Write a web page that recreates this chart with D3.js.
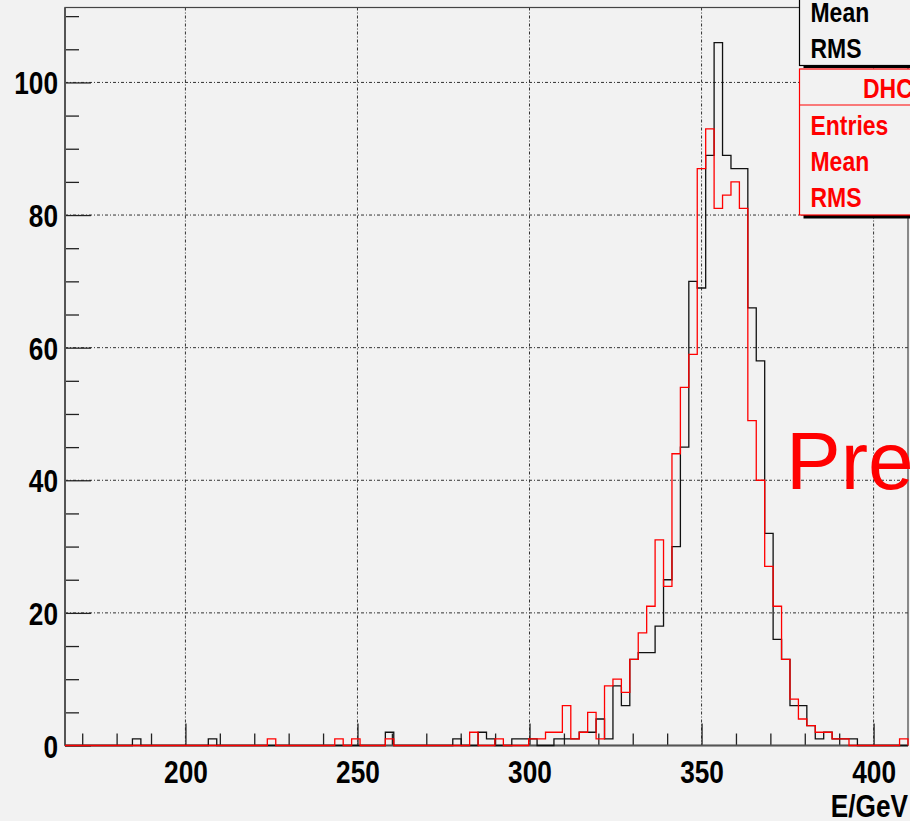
<!DOCTYPE html>
<html>
<head>
<meta charset="utf-8">
<script src="https://cdn.jsdelivr.net/npm/d3@7"></script>
<style>
  body { margin: 0; background: #f2f2f2; }
  svg { display: block; }
  .lbl { font-family: 'Liberation Sans', Arial, Helvetica, sans-serif; font-weight: bold; }
</style>
</head>
<body>
<div id="chart"></div>
<script>
// histogram binning: 100 bins between 165 and 410 GeV
var xRange = [165, 410];
var nBins = 100;

// black histogram, counts per bin
var countsBlack = [
  0,0,0,0,0,0,0,0,1,0,
  0,0,0,0,0,0,0,1,0,0,
  0,0,0,0,0,0,0,0,0,0,
  0,0,0,0,0,0,0,0,2,0,
  0,0,0,0,0,0,1,0,0,2,
  1,0,0,1,1,1,0,0,1,1,
  1,2,2,4,1,9,6,13,14,14,
  18,25,30,45,70,69,89,106,89,87,
  87,66,58,32,16,13,6,6,3,1,
  2,1,1,1,0,0,0,0,0,0
];

// red histogram (DHC), counts per bin
var countsRed = [
  0,0,0,0,0,0,0,0,0,0,
  0,0,0,0,0,0,0,0,0,0,
  0,0,0,0,1,0,0,0,0,0,
  0,0,1,0,1,0,0,0,1,0,
  0,0,0,0,0,0,0,0,2,0,
  0,1,0,0,0,1,1,2,2,6,
  1,2,5,1,9,10,8,13,17,21,
  31,24,44,54,59,87,93,81,83,85,
  81,49,40,27,21,13,7,4,3,2,
  2,1,1,0,0,0,0,0,0,1
];

var yMax = 111.3;
var xTicks = [200, 250, 300, 350, 400];
var xMinorTicks = [170, 180, 190, 210, 220, 230, 240, 260, 270, 280, 290, 310, 320, 330, 340, 360, 370, 380, 390];
var yTicks = [0, 20, 40, 60, 80, 100];
var yMinorTicks = [5, 10, 15, 25, 30, 35, 45, 50, 55, 65, 70, 75, 85, 90, 95, 105, 110];
var xTitle = 'E/GeV';
var statsBlack = ['Mean', 'RMS'];
var statsRedTitle = 'DHC';
var statsRed = ['Entries', 'Mean', 'RMS'];
var watermark = 'Pre';

//------------------------------------------------------------------------------
var W = 910, H = 821;
var frame = {l: 65, r: 908, t: 7.5, b: 745.5};
var squeeze = 'scale(0.82,1)';   // narrow bold look of the original labels

var x = d3.scaleLinear().domain(xRange).range([frame.l, frame.r]);
var y = d3.scaleLinear().domain([0, yMax]).range([frame.b, frame.t]);

var svg = d3.select('#chart').append('svg')
  .attr('width', W)
  .attr('height', H);

svg.append('rect').attr('width', W).attr('height', H).attr('fill', '#f2f2f2');

// narrow text placed at (px,py)
function narrowText(parent, px, py, str, size, color, anchor) {
  return parent.append('text')
    .attr('class', 'lbl')
    .attr('transform', 'translate(' + px + ',' + py + ')' + squeeze)
    .attr('text-anchor', anchor || 'start')
    .attr('font-size', size)
    .attr('fill', color)
    .text(str);
}

// grid
svg.append('g').selectAll('line')
  .data(xTicks)
  .enter().append('line')
    .attr('x1', function(d) { return x(d); })
    .attr('x2', function(d) { return x(d); })
    .attr('y1', frame.t)
    .attr('y2', frame.b)
    .attr('stroke', '#333')
    .attr('stroke-dasharray', '3,2,1,2');

svg.append('g').selectAll('line')
  .data(yTicks.filter(function(d) { return d > 0; }))
  .enter().append('line')
    .attr('x1', frame.l)
    .attr('x2', frame.r)
    .attr('y1', function(d) { return y(d); })
    .attr('y2', function(d) { return y(d); })
    .attr('stroke', '#333')
    .attr('stroke-dasharray', '3,2,1,2');

// frame
svg.append('rect')
  .attr('x', frame.l).attr('y', frame.t)
  .attr('width', frame.r - frame.l).attr('height', frame.b - frame.t)
  .attr('fill', 'none')
  .attr('stroke', '#444')
  .attr('stroke-width', 1.2);

// ticks (pointing into the frame)
function tickAxis(axis, tr) {
  var g = svg.append('g').attr('transform', tr).call(axis);
  g.select('.domain').remove();
  g.selectAll('.tick line').attr('stroke', '#222').attr('stroke-width', 1.3);
  return g;
}
tickAxis(d3.axisRight(y).tickValues(yTicks).tickSize(26).tickFormat(''), 'translate(' + frame.l + ',0)');
tickAxis(d3.axisRight(y).tickValues(yMinorTicks).tickSize(14).tickFormat(''), 'translate(' + frame.l + ',0)');
tickAxis(d3.axisTop(x).tickValues(xTicks).tickSize(22).tickFormat(''), 'translate(0,' + frame.b + ')');
tickAxis(d3.axisTop(x).tickValues(xMinorTicks).tickSize(12).tickFormat(''), 'translate(0,' + frame.b + ')');

// axis lines
svg.append('line')
  .attr('x1', frame.l).attr('x2', frame.l).attr('y1', frame.t).attr('y2', frame.b)
  .attr('stroke', '#555').attr('stroke-width', 2);
svg.append('line')
  .attr('x1', frame.l).attr('x2', frame.r).attr('y1', frame.b).attr('y2', frame.b)
  .attr('stroke', '#555').attr('stroke-width', 2);

// tick labels
var yl = svg.append('g')
  .attr('transform', 'translate(' + (frame.l - 7) + ',0)')
  .call(d3.axisLeft(y).tickValues(yTicks).tickSize(0).tickPadding(0));
yl.select('.domain').remove();
yl.selectAll('text')
  .attr('class', 'lbl').attr('font-size', 32).attr('fill', '#000')
  .attr('dy', '0.36em').attr('transform', squeeze);

var xl = svg.append('g')
  .attr('transform', 'translate(0,' + (frame.b + 14) + ')')
  .call(d3.axisBottom(x).tickValues(xTicks).tickSize(0).tickPadding(0));
xl.select('.domain').remove();
xl.selectAll('text')
  .attr('class', 'lbl').attr('font-size', 32).attr('fill', '#000')
  .attr('dy', '0.72em').attr('transform', squeeze);

narrowText(svg, frame.r, 817, xTitle, 32, '#000', 'end');

// histograms
var binW = (xRange[1] - xRange[0]) / nBins;
function stepPoints(counts) {
  var pts = [[xRange[0], 0]];
  counts.forEach(function(c, i) {
    var lo = xRange[0] + i * binW;
    pts.push([lo, c], [lo + binW, c]);
  });
  pts.push([xRange[1], 0]);
  return pts;
}
var line = d3.line()
  .x(function(d) { return x(d[0]); })
  .y(function(d) { return y(d[1]); });

svg.append('path')
  .attr('d', line(stepPoints(countsBlack)))
  .attr('fill', 'none')
  .attr('stroke', '#111')
  .attr('stroke-width', 1.3);

svg.append('path')
  .attr('d', line(stepPoints(countsRed)))
  .attr('fill', 'none')
  .attr('stroke', '#ff0000')
  .attr('stroke-width', 1.3);

// watermark
svg.append('text')
  .attr('x', 786)
  .attr('y', 489)
  .attr('font-family', "'Liberation Sans', Arial, sans-serif")
  .attr('font-size', 82)
  .attr('fill', '#ff0000')
  .text(watermark);

// stats boxes
var bx = 799.5;
svg.append('rect')
  .attr('x', bx + 4).attr('y', -80).attr('width', 200).attr('height', 148)
  .attr('fill', '#000');
svg.append('rect')
  .attr('x', bx).attr('y', -80).attr('width', 200).attr('height', 145.5)
  .attr('fill', '#f2f2f2').attr('stroke', '#000').attr('stroke-width', 1.2);
statsBlack.forEach(function(d, i) {
  narrowText(svg, bx + 11, 22 + i * 35.6, d, 28, '#000');
});

svg.append('rect')
  .attr('x', bx + 4).attr('y', 72).attr('width', 200).attr('height', 146.5)
  .attr('fill', '#000');
svg.append('rect')
  .attr('x', bx).attr('y', 69).attr('width', 200).attr('height', 146)
  .attr('fill', '#f2f2f2').attr('stroke', '#ff0000').attr('stroke-width', 1.2);
svg.append('line')
  .attr('x1', bx).attr('x2', bx + 200).attr('y1', 105).attr('y2', 105)
  .attr('stroke', '#ff0000').attr('stroke-width', 1.2);
narrowText(svg, 863, 98, statsRedTitle, 28, '#ff0000');
statsRed.forEach(function(d, i) {
  narrowText(svg, bx + 11, 135 + i * 36, d, 28, '#ff0000');
});
</script>
</body>
</html>
